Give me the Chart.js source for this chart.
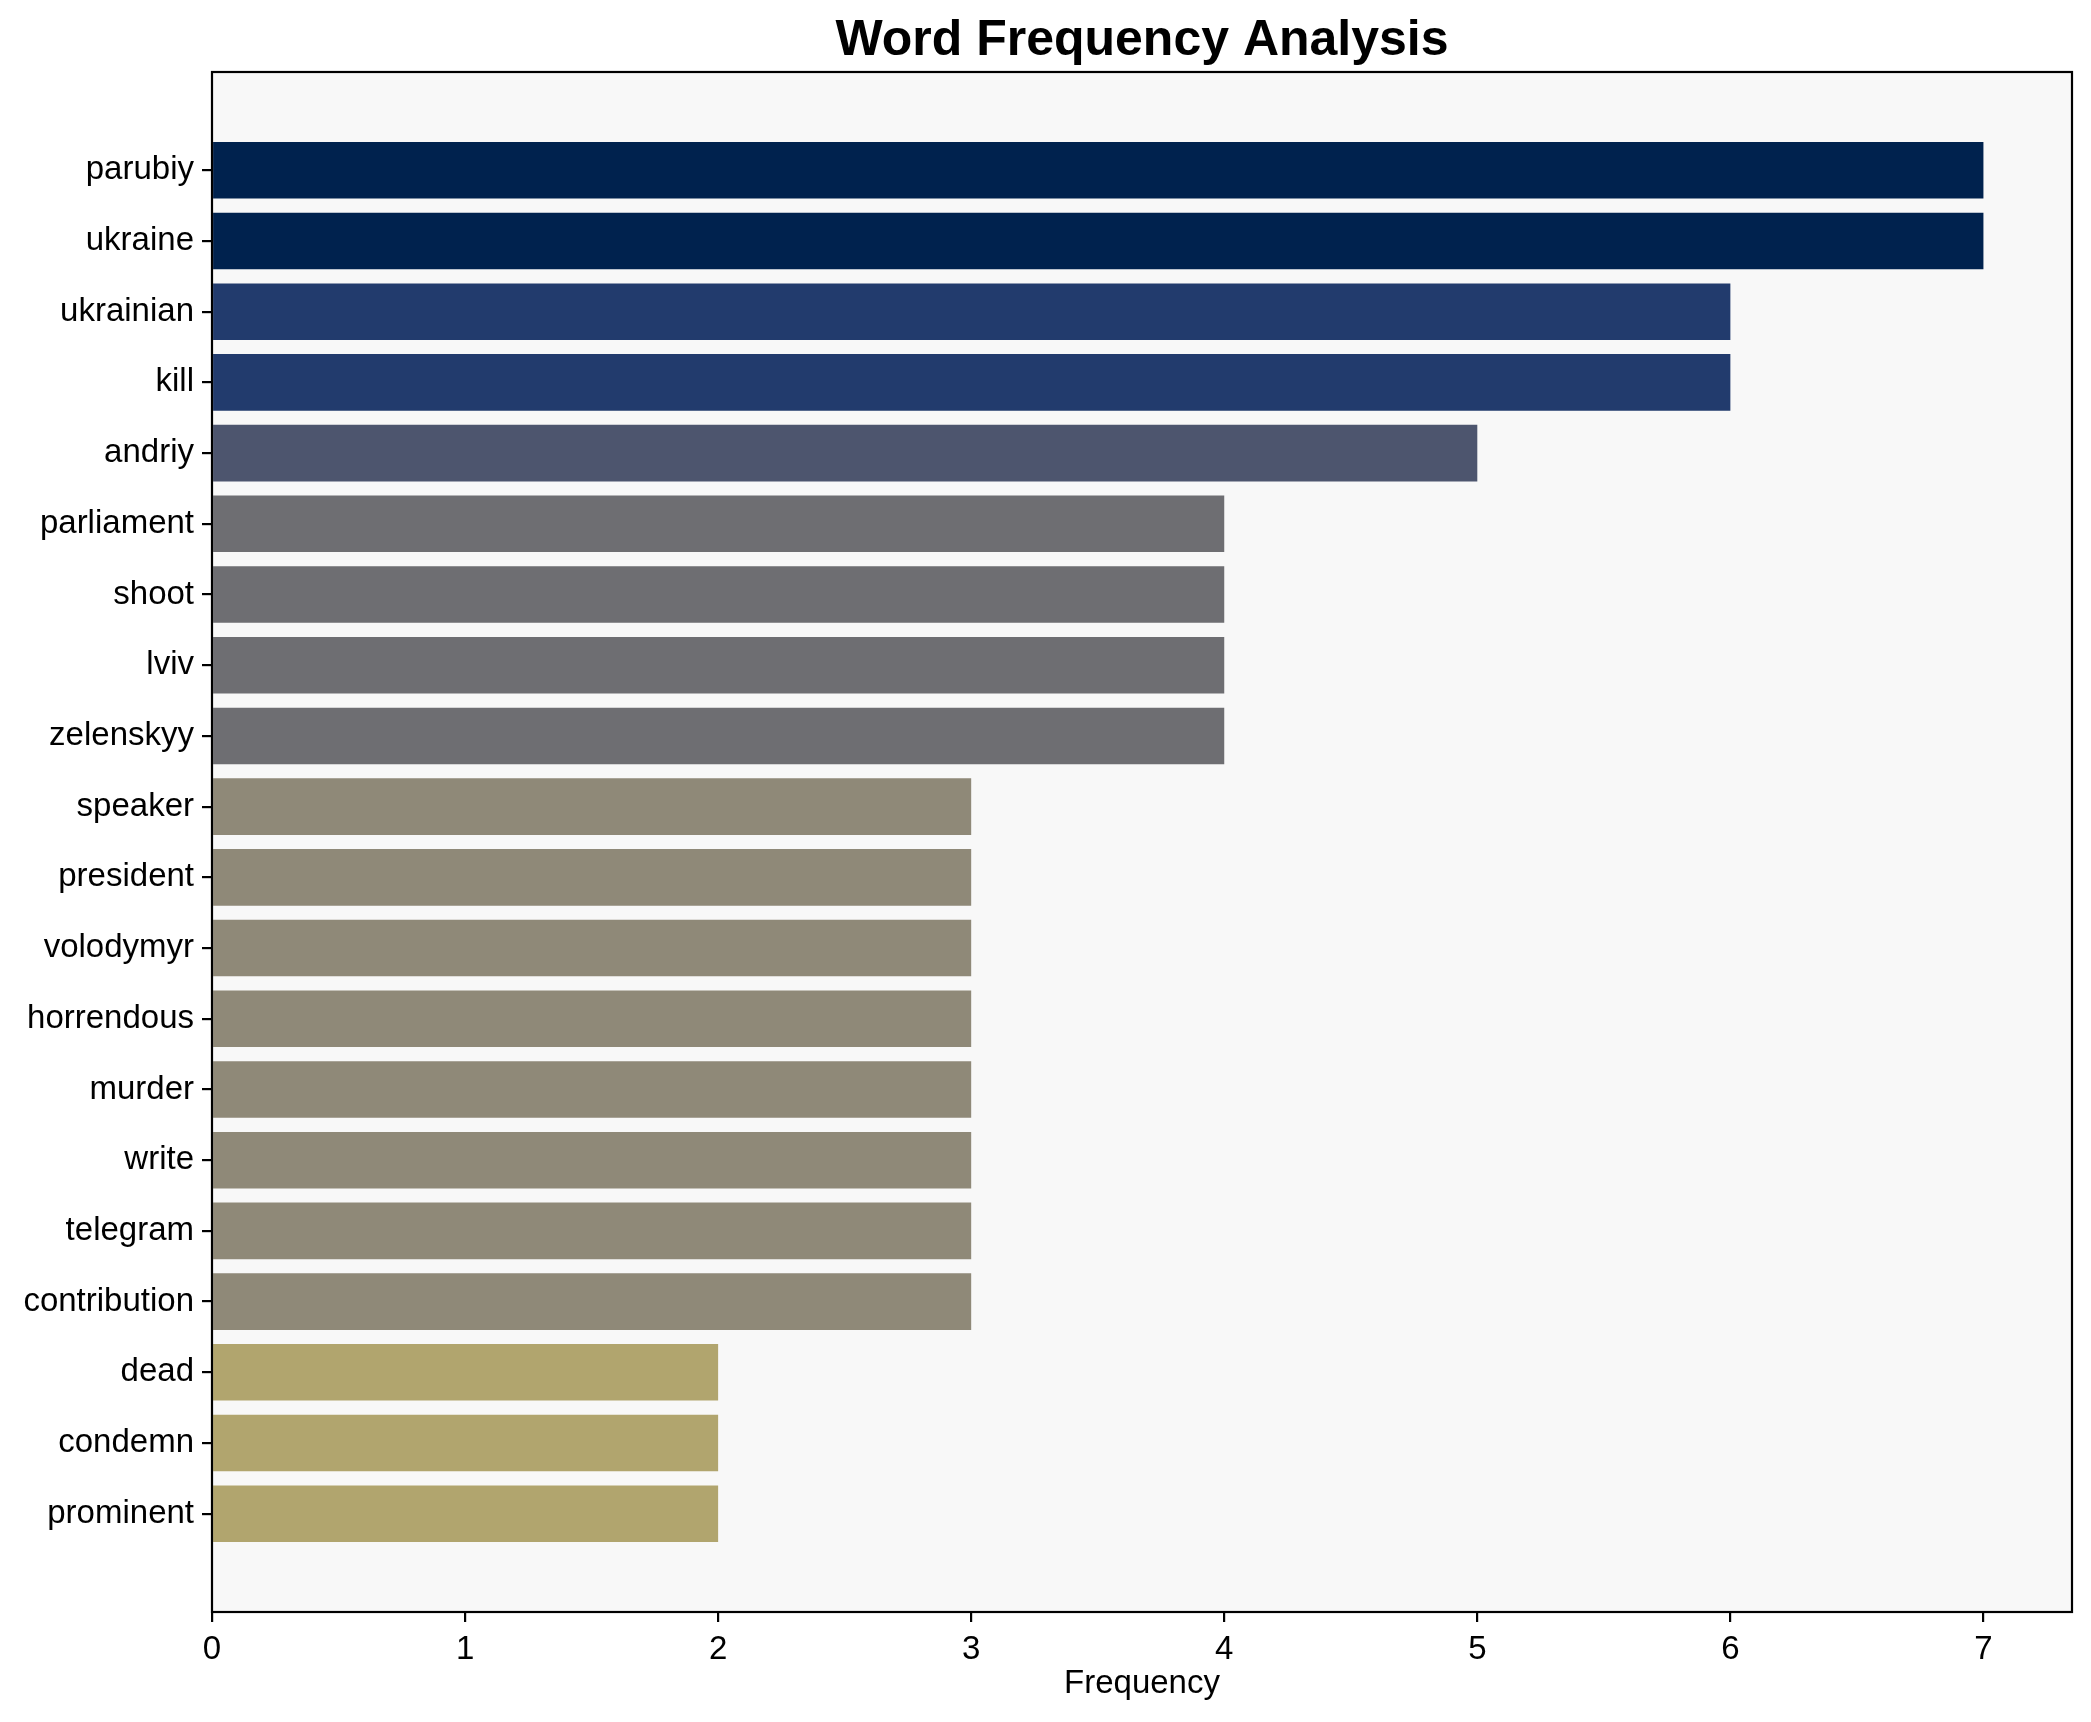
<!DOCTYPE html>
<html>
  <head>
    <meta charset="utf-8">
    <title>Word Frequency Analysis</title>
    <script src="https://cdn.jsdelivr.net/npm/chart.js@4.4.0/dist/chart.umd.min.js"></script>
    <style>
      body { margin: 0; background: #fff; }
      #chart { display: block; }
    </style>
  </head>
  <body>
    <canvas id="chart" width="2091" height="1722" style="width:2091px;height:1722px"></canvas>

    <script type="text/javascript">
    var words = ["parubiy", "ukraine", "ukrainian", "kill", "andriy", "parliament", "shoot", "lviv",
                 "zelenskyy", "speaker", "president", "volodymyr", "horrendous", "murder", "write",
                 "telegram", "contribution", "dead", "condemn", "prominent"]
    var freqs = [7, 7, 6, 6, 5, 4, 4, 4, 4, 3, 3, 3, 3, 3, 3, 3, 3, 2, 2, 2]
    var xTicks = [0, 1, 2, 3, 4, 5, 6, 7]

    // cividis-like shades, one per frequency
    var colorByFreq = {7: "#00224e", 6: "#223b6d", 5: "#4d556e", 4: "#6e6e72", 3: "#8f8978", 2: "#b1a56e"}

    var font = "'Liberation Sans', Arial, sans-serif"
    var lw = 2.2

    var frame = {
      id: "frame",
      beforeDraw: function(chart) {
        var a = chart.chartArea, ctx = chart.ctx
        ctx.save()
        ctx.fillStyle = "#f8f8f8"
        ctx.fillRect(a.left, a.top, a.right - a.left, a.bottom - a.top)
        ctx.restore()
      },
      afterDraw: function(chart) {
        var a = chart.chartArea, ctx = chart.ctx
        ctx.save()
        ctx.strokeStyle = "#000"
        ctx.lineWidth = lw
        ctx.strokeRect(a.left, a.top, a.right - a.left, a.bottom - a.top)
        ctx.restore()
      }
    }

    var chart = new Chart(document.getElementById("chart"), {
      type: "bar",
      data: {
        datasets: [{
          data: freqs.map(function(f, i) { return {x: f, y: i} }),
          backgroundColor: function(c) { return colorByFreq[freqs[c.dataIndex]] },
          borderWidth: 0,
          barPercentage: 0.8,
          categoryPercentage: 1.0
        }]
      },
      plugins: [frame],
      options: {
        indexAxis: "y",
        responsive: false,
        devicePixelRatio: 1,
        animation: false,
        layout: { padding: { left: 0, right: 19, top: 0, bottom: 0 } },
        plugins: {
          legend: { display: false },
          tooltip: { enabled: false },
          title: {
            display: true,
            text: "Word Frequency Analysis",
            color: "#000",
            fullSize: false,
            font: { family: font, size: 50, weight: "bold", lineHeight: 1.2 },
            padding: { top: 11, bottom: 1 }
          }
        },
        scales: {
          x: {
            type: "linear",
            min: 0,
            max: 7.35,
            afterBuildTicks: function(axis) { axis.ticks = xTicks.map(function(v) { return {value: v} }) },
            afterFit: function(axis) { axis.height = 110 },
            border: { display: false },
            grid: { display: true, offset: false, drawOnChartArea: false, drawTicks: true, tickLength: 10, color: "#000", lineWidth: lw },
            ticks: { color: "#000", padding: 8, font: { family: font, size: 33 }, maxRotation: 0 },
            title: {
              display: true,
              text: "Frequency",
              color: "#000",
              font: { family: font, size: 33, lineHeight: 1.2 },
              padding: { top: 0, bottom: 18 }
            }
          },
          y: {
            type: "linear",
            reverse: true,
            offset: false,
            min: -1.39,
            max: 20.39,
            afterBuildTicks: function(axis) { axis.ticks = words.map(function(w, i) { return {value: i} }) },
            afterFit: function(axis) { axis.width = 212 },
            border: { display: false },
            grid: { display: true, offset: false, drawOnChartArea: false, drawTicks: true, tickLength: 10, color: "#000", lineWidth: lw },
            ticks: {
              color: "#000",
              padding: 8,
              autoSkip: false,
              font: { family: font, size: 33 },
              callback: function(v) { return words[v] }
            }
          }
        }
      }
    });
    </script>
  </body>
</html>
